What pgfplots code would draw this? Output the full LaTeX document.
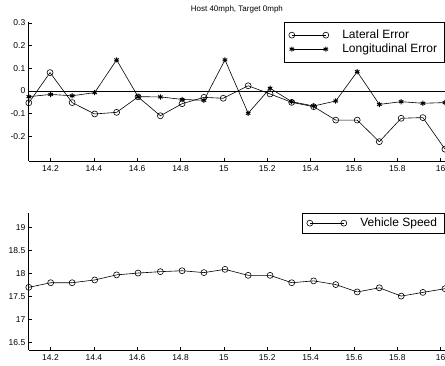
\documentclass[border=0pt]{standalone}
\usepackage{pgfplots}
\pgfplotsset{compat=1.18}
\usepackage{fontspec}
\setmainfont{Liberation Sans}

\pgfplotstableread{
x y
14.100 -0.052
14.198 0.081
14.300 -0.051
14.404 -0.101
14.505 -0.094
14.604 -0.026
14.707 -0.109
14.807 -0.056
14.908 -0.028
14.997 -0.032
15.112 0.023
15.213 -0.013
15.313 -0.050
15.414 -0.069
15.516 -0.128
15.615 -0.128
15.717 -0.223
15.818 -0.120
15.918 -0.117
16.020 -0.256
}\lateral

\pgfplotstableread{
x y
14.100 -0.025
14.201 -0.015
14.300 -0.021
14.404 -0.007
14.505 0.137
14.604 -0.025
14.707 -0.026
14.807 -0.037
14.908 -0.041
15.005 0.137
15.112 -0.098
15.213 0.012
15.313 -0.047
15.414 -0.066
15.516 -0.044
15.615 0.085
15.717 -0.059
15.818 -0.047
15.918 -0.054
16.020 -0.051
}\longit

\pgfplotstableread{
x y
14.100 17.70
14.201 17.80
14.300 17.80
14.404 17.86
14.505 17.97
14.604 18.01
14.707 18.04
14.807 18.06
14.908 18.02
15.005 18.09
15.112 17.96
15.213 17.96
15.313 17.80
15.414 17.84
15.516 17.76
15.615 17.60
15.717 17.69
15.818 17.51
15.918 17.59
16.020 17.67
}\speed

\pgfplotsset{
  mystyle/.style={
    scale only axis,
    anchor=south west,
    width=416.2pt,
    xmin=14.1, xmax=16.02,
    axis x line*=bottom,
    axis y line*=left,
    axis line style={black, line width=0.8pt},
    tick align=inside,
    major tick length=3pt,
    tick style={black, line width=0.5pt},
    xtick={14.2,14.4,14.6,14.8,15,15.2,15.4,15.6,15.8,16},
    /pgf/number format/assume math mode=true,
    ticklabel style={font=\fontsize{8.5}{9}\selectfont},
    xticklabel style={yshift=-1pt},
    clip=false,
    legend cell align=left,
    legend image code/.code={\draw[#1, line width=0.6pt] plot coordinates {(0pt,0pt) (34pt,0pt)};},
    legend style={at={(1,1)}, anchor=north east, draw=black, line width=0.9pt, fill=white,
      font=\fontsize{12}{13}\selectfont, inner xsep=4pt, inner ysep=6pt,
      column sep=10pt,
      nodes={inner xsep=3.5pt, inner ysep=1.9pt}},
  }
}

\begin{document}
\begin{tikzpicture}
\begin{axis}[mystyle, name=top, at={(28.8pt,205pt)}, height=139.3pt,
  ymin=-0.308, ymax=0.305,
  ytick={-0.2,-0.1,0,0.1,0.2,0.3},
  title={Host 40mph, Target 0mph},
  title style={font=\fontsize{8}{9}\selectfont, at={(0.5,1)}, anchor=south, yshift=1pt, inner sep=1pt},
]
\addplot[black, line width=0.6pt, mark=o, mark size=3pt, mark options={solid, fill=none}] table {\lateral};
\addlegendentry{Lateral Error}
\addplot[black, line width=0.6pt, mark=asterisk, mark size=2.6pt, mark options={solid, line width=1pt}] table {\longit};
\addlegendentry{Longitudinal Error}
\addplot[black, line width=0.6pt, forget plot] coordinates {(14.1,0) (16.02,0)};
\end{axis}
\begin{axis}[mystyle, name=bot, at={(28.8pt,16pt)}, height=137.3pt,
  ymin=16.34, ymax=19.32,
  ytick={16.5,17,17.5,18,18.5,19},
  legend style={inner ysep=3pt},
]
\addplot[black, line width=0.6pt, mark=o, mark size=3pt, mark options={solid, fill=none}] table {\speed};
\addlegendentry{Vehicle Speed}
\end{axis}
\pgfresetboundingbox
\useasboundingbox (0pt,0pt) rectangle (445pt,366pt);
\end{tikzpicture}
\end{document}
